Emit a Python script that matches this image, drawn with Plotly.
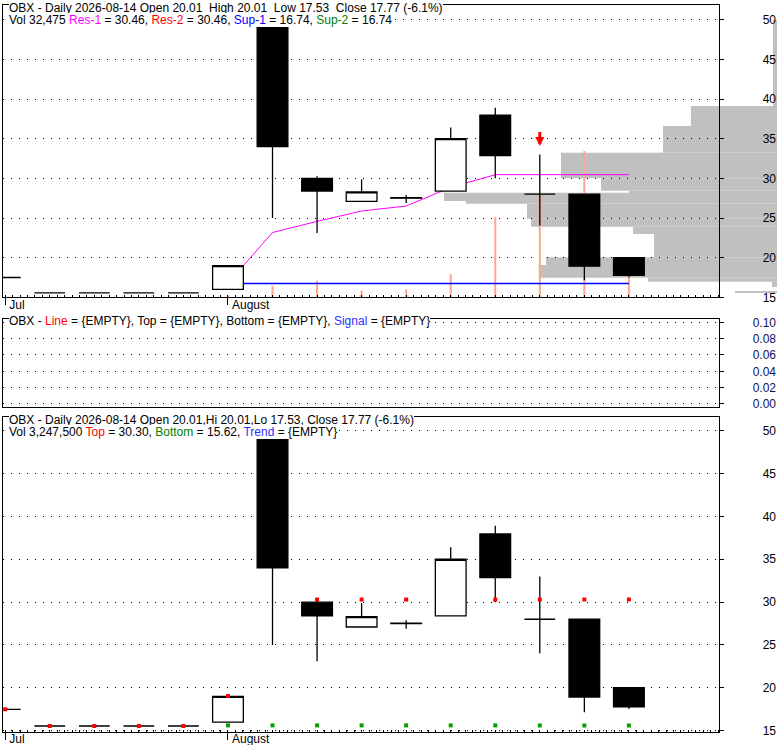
import plotly.graph_objects as go

# ---------------- data ----------------
dates = ["2026-07-27", "2026-07-28", "2026-07-29", "2026-07-30", "2026-07-31",
         "2026-08-03", "2026-08-04", "2026-08-05", "2026-08-06", "2026-08-07",
         "2026-08-10", "2026-08-11", "2026-08-12", "2026-08-13", "2026-08-14"]
opens = [17.50, 15.55, 15.55, 15.55, 15.55, 16.00, 49.00, 30.00, 27.10, 27.55,
         28.40, 37.95, 28.00, 28.00, 20.01]
highs = [17.50, 15.55, 15.55, 15.55, 15.55, 19.05, 49.00, 30.25, 29.90, 27.90,
         36.40, 38.90, 33.00, 28.00, 20.01]
lows = [17.50, 15.55, 15.55, 15.55, 15.55, 16.00, 25.00, 23.10, 27.10, 26.90,
        28.40, 30.00, 24.05, 17.15, 17.53]
closes = [17.50, 15.55, 15.55, 15.55, 15.55, 19.00, 34.00, 28.40, 28.30, 27.50,
          35.00, 32.85, 28.00, 18.93, 17.77]
volumes = [0, 0, 0, 0, 0, 3150, 18300, 26200, 10400, 12300,
           36700, 126500, 161200, 230600, 32475]
res1 = [None, None, None, None, None, 16.78, 23.17, 24.58, 25.88, 26.51,
        28.86, 30.46, 30.46, 30.46, 30.46]
sup1 = [None, None, None, None, None, 16.74, 16.74, 16.74, 16.74, 16.74,
        16.74, 16.74, 16.74, 16.74, 16.74]
top_band = [17.50, 15.55, 15.55, 15.55, 15.55, 19.05, None, 30.30, 30.30, 30.30,
            None, 30.30, 30.30, 30.30, 30.30]
bottom_band = [None, None, None, None, None, 15.62, 15.62, 15.62, 15.62, 15.62,
               15.62, 15.62, 15.62, 15.62, 15.62]
sell_idx = [12]
sell_price = [34.07]

# volume-by-price profile (price bin low / high, relative volume)
prof_lo = [39.11, 36.59, 33.23, 30.00, 28.44, 28.19, 27.14, 26.80, 24.91, 23.90,
           22.98, 20.04, 19.07, 17.47, 16.97, 16.30, 15.57]
prof_hi = [49.95, 39.11, 36.59, 33.23, 30.00, 28.44, 28.19, 27.14, 26.80, 24.91,
           23.90, 22.98, 20.04, 19.07, 17.47, 16.97, 15.69]
prof_vol = [4, 86, 114, 216, 176, 148, 333, 311, 250, 246,
            144, 123, 231, 238, 129, 5, 42]

tick_idx = [0, 5]
tick_text = ["Jul", "August"]

res2_val, sup2_val = 30.46, 16.74

# ---------------- figure ----------------
FONT = "Liberation Sans, Arial, sans-serif"
xs = list(range(len(dates)))

fig = go.Figure()

# profile (bottom-most subplot)
fig.add_trace(go.Bar(
    orientation="h",
    y=[(a + b) / 2 for a, b in zip(prof_lo, prof_hi)],
    x=prof_vol,
    width=[b - a for a, b in zip(prof_lo, prof_hi)],
    marker=dict(color="#C0C0C0", line=dict(width=0)),
    xaxis="x", yaxis="y", hoverinfo="skip", showlegend=False))

# volume bars
fig.add_trace(go.Bar(
    x=xs, y=volumes, width=0.045,
    marker=dict(color="#FFA589", line=dict(width=0)),
    xaxis="x2", yaxis="y2", hoverinfo="skip", showlegend=False))

# Res / Sup lines (own overlay, beneath the candles)
fig.add_trace(go.Scatter(x=xs, y=sup1, mode="lines", line=dict(color="#0000FF", width=1.3),
                         xaxis="x2", yaxis="y3", showlegend=False, hoverinfo="skip"))
fig.add_trace(go.Scatter(x=xs, y=res1, mode="lines", line=dict(color="#FF00FF", width=1),
                         xaxis="x2", yaxis="y3", showlegend=False, hoverinfo="skip"))

candle_style = dict(
    increasing=dict(line=dict(color="black", width=1.3), fillcolor="white"),
    decreasing=dict(line=dict(color="black", width=1.3), fillcolor="black"),
    whiskerwidth=0, showlegend=False, hoverinfo="skip")

fig.add_trace(go.Candlestick(x=xs, open=opens, high=highs, low=lows, close=closes,
                             xaxis="x2", yaxis="y9", **candle_style))

# middle (empty) panel placeholder
fig.add_trace(go.Scatter(x=[None], y=[None], xaxis="x3", yaxis="y4",
                         showlegend=False, hoverinfo="skip"))

# bottom panel
fig.add_trace(go.Candlestick(x=xs, open=opens, high=highs, low=lows, close=closes,
                             xaxis="x4", yaxis="y5", **candle_style))
fig.add_trace(go.Scatter(x=xs, y=bottom_band, mode="markers",
                         marker=dict(symbol="square", size=4, color="#00A000"),
                         xaxis="x4", yaxis="y5", showlegend=False, hoverinfo="skip"))
fig.add_trace(go.Scatter(x=xs, y=top_band, mode="markers",
                         marker=dict(symbol="square", size=4, color="#FF0000"),
                         xaxis="x4", yaxis="y5", showlegend=False, hoverinfo="skip"))

# dummy traces for right-aligned label axes
for ya, xa in (("y6", "x2"), ("y7", "x3"), ("y8", "x4")):
    fig.add_trace(go.Scatter(x=[None], y=[None], xaxis=xa, yaxis=ya,
                             showlegend=False, hoverinfo="skip"))

# ---------------- layout ----------------
dom_c = [0, 0.9255]
top_dom = [0.5979, 1.0]
mid_dom = [0.4475, 0.5677]
bot_dom = [0.0, 0.4337]
xr = [-0.05, 16.03]
top_rng = [15, 51.85]
mid_rng = [-0.0033, 0.1037]
bot_rng = [14.85, 51.63]
GRIDDASH = "1px,7px"


def xax(anchor, labels=True):
    d = dict(range=xr, domain=dom_c, anchor=anchor, showgrid=False, zeroline=False,
             showline=True, linecolor="black", linewidth=1, mirror=True,
             rangeslider=dict(visible=False), fixedrange=True, automargin=False)
    if labels:
        d.update(tickmode="array", tickvals=tick_idx, ticktext=tick_text,
                 ticks="outside", ticklen=7, tickcolor="black",
                 ticklabelposition="outside right", ticklabelstandoff=-4,
                 ticklabelshift=3,
                 tickfont=dict(size=12, color="black", family=FONT),
                 minor=dict(ticks="inside", ticklen=2, tickmode="linear", tick0=0,
                            dtick=1 / 6, tickcolor="black", showgrid=False))
    else:
        d.update(showticklabels=False, ticks="")
    return d


def yax(anchor, dom, rng, dtick, overlaying=None):
    d = dict(domain=dom, range=rng, anchor=anchor, side="right", showline=True,
             linecolor="black", linewidth=1, mirror=True, zeroline=False,
             ticks="outside", ticklen=4, tickcolor="black", showticklabels=False,
             tickmode="linear", tick0=0, dtick=dtick, showgrid=True,
             gridcolor="black", gridwidth=1, griddash=GRIDDASH, fixedrange=True,
             automargin=False)
    if overlaying:
        d["overlaying"] = overlaying
    return d


def ylab(overlay, rng, dtick, fmt=None, color="black"):
    d = dict(overlaying=overlay, anchor="free", position=1.0, side="right",
             range=rng, tickmode="linear", tick0=0, dtick=dtick, showgrid=False,
             showline=False, zeroline=False, ticks="", ticklabelposition="inside",
             ticklabeloverflow="allow", ticklabelstandoff=-2, automargin=False,
             tickfont=dict(size=12, color=color, family=FONT), fixedrange=True)
    if fmt:
        d["tickformat"] = fmt
    return d


layout = dict(
    template="none",
    width=780, height=745,
    margin=dict(l=3, r=3, t=5, b=13, autoexpand=False),
    paper_bgcolor="white", plot_bgcolor="rgba(0,0,0,0)",
    font=dict(family=FONT, size=12, color="black"),
    showlegend=False, boxgap=0.31, boxgroupgap=0, barmode="overlay",
    xaxis=dict(domain=[0, 1], range=[774, 0], anchor="y", visible=False,
               fixedrange=True, automargin=False),
    yaxis=dict(domain=top_dom, range=top_rng, anchor="x", visible=False,
               fixedrange=True, automargin=False),
    xaxis2=xax("y2"),
    yaxis2=dict(domain=top_dom, range=[0, 460700], anchor="x2", visible=False,
                fixedrange=True, automargin=False),
    yaxis3=yax("x2", top_dom, top_rng, 5, overlaying="y2"),
    yaxis9=dict(overlaying="y2", anchor="x2", range=top_rng, visible=False,
                fixedrange=True, automargin=False),
    xaxis3=xax("y4", labels=False),
    yaxis4=yax("x3", mid_dom, mid_rng, 0.02),
    xaxis4=xax("y5"),
    yaxis5=yax("x4", bot_dom, bot_rng, 5),
    yaxis6=ylab("y2", top_rng, 5),
    yaxis7=ylab("y4", mid_rng, 0.02, fmt=".2f", color="#101060"),
    yaxis8=ylab("y5", bot_rng, 5),
)
fig.update_layout(**layout)


# ---------------- header texts ----------------
def colored(parts):
    out = []
    for txt, col in parts:
        out.append(f"<span style='color:{col}'>{txt}</span>")
    return "".join(out)


prev_close = closes[-2]
pct = (closes[-1] - prev_close) / prev_close * 100
day = dates[-1]
line_top1 = (f"OBX - Daily {day} Open {opens[-1]:.2f}&nbsp; High {highs[-1]:.2f}&nbsp; "
             f"Low {lows[-1]:.2f}&nbsp; Close {closes[-1]:.2f} ({pct:.1f}%)")
line_top2 = colored([
    (f"Vol {volumes[-1]:,} ", "black"), ("Res-1", "#FF00FF"), (f" = {res1[-1]:.2f}, ", "black"),
    ("Res-2", "#FF0000"), (f" = {res2_val:.2f}, ", "black"), ("Sup-1", "#0000FF"),
    (f" = {sup1[-1]:.2f}, ", "black"), ("Sup-2", "#008000"), (f" = {sup2_val:.2f}", "black")])
line_mid = colored([
    ("OBX - ", "black"), ("Line", "#FF0000"),
    (" = {EMPTY}, Top = {EMPTY}, Bottom = {EMPTY}, ", "black"),
    ("Signal", "#3030FF"), (" = {EMPTY}", "black")])
line_bot1 = (f"OBX - Daily {day} Open {opens[-1]:.2f},Hi {highs[-1]:.2f},Lo {lows[-1]:.2f}, "
             f"Close {closes[-1]:.2f} ({pct:.1f}%)")
line_bot2 = colored([
    (f"Vol {volumes[-1] * 100:,} ", "black"), ("Top", "#FF0000"),
    (f" = {top_band[-1]:.2f}, ", "black"), ("Bottom", "#008000"),
    (f" = {bottom_band[-1]:.2f}, ", "black"), ("Trend", "#3030FF"), (" = {EMPTY}", "black")])

for txt, ypos in ((line_top1, 0.9959), (line_top2, 0.9787), (line_mid, 0.5653),
                  (line_bot1, 0.4298), (line_bot2, 0.4127)):
    fig.add_annotation(text=txt, xref="paper", yref="paper", x=0.0078, y=ypos,
                       xanchor="left", yanchor="middle", showarrow=False,
                       bgcolor="white", borderpad=0, borderwidth=0,
                       font=dict(size=12, color="black", family=FONT))

# sell signal arrow
for i, p in zip(sell_idx, sell_price):
    fig.add_annotation(x=i, y=p, ax=i, ay=p + 1.95, xref="x2", yref="y3",
                       axref="x2", ayref="y3", text="", showarrow=True,
                       arrowhead=2, arrowsize=0.6, arrowwidth=3, arrowcolor="#FF0000")

fig.write_html("out.html", config={"displayModeBar": False},
               post_script="document.body.style.margin='0px';")
